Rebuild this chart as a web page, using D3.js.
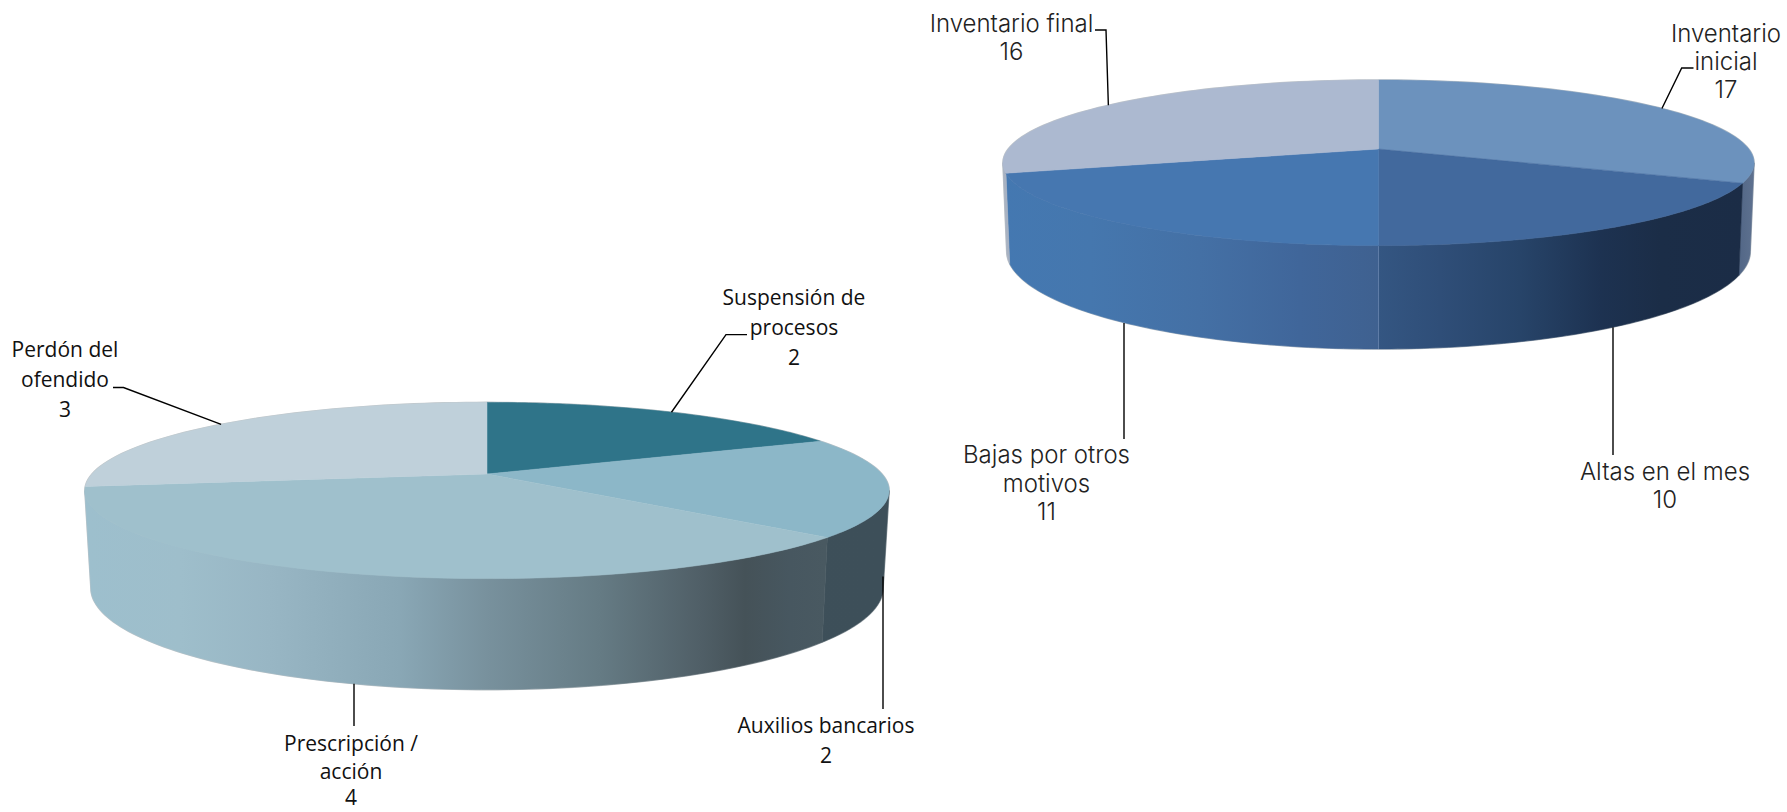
<!DOCTYPE html>
<html><head><meta charset="utf-8">
<script src="https://cdn.jsdelivr.net/npm/d3@7/dist/d3.min.js"></script>
<style>html,body{margin:0;padding:0;background:#fff}svg{display:block}</style>
</head><body><svg id="c" width="1787" height="812"></svg>
<script>
const leftCategories = [["Suspensión de","procesos"],["Auxilios bancarios"],["Prescripción /","acción"],["Perdón del","ofendido"]];
const leftValues = [2,2,4,3];
const leftFaceColors = ["#2f7489","#8cb7c8","#9fc0cc","#bfd0da"];
const rightCategories = [["Inventario","inicial"],["Altas en el mes"],["Bajas por otros","motivos"],["Inventario final"]];
const rightValues = [17,10,11,16];
const rightFaceColors = ["#6c92bd","#42699d","#4677b0","#acb9d0"];

const pies = [
 {id:"L",cats:leftCategories,vals:leftValues,faces:leftFaceColors,
  cx:487,cy:474,a:85,b:395,p:0.1875,
  bot:{cy:569,a:98,k:0.985},
  walls:[
   [[90,"#3f515a"],[880,"#3f515a"]],
   [[88,"#3f515a"],[880,"#3d4f59"]],
   [[88,"#9dbfcd"],[180,"#9ebecb"],[270,"#98b6c4"],[400,"#89a7b5"],[487,"#78919d"],[600,"#657b84"],[700,"#505f67"],[745,"#455258"],[790,"#475760"],[825,"#495961"]],
   [[80,"#a9bcc6"],[100,"#a9bcc6"]]],
  font:"'Open Sans'",weight:400,size:21,color:"#111",
  labels:[
   {x:794,y:[297,327,357],leader:[[726,334.6],[747,334.6]],rim:"top"},
   {x:826,y:[725,755],leader:[[883,709]],rim:"bot",xfix:-1},
   {x:351,y:[743,771,797],leader:[[354,726]],rim:"bot"},
   {x:65,y:[349,379,409],leader:[[123.5,387.5],[113,387.5]],rim:"top"}]},
 {id:"R",cats:rightCategories,vals:rightValues,faces:rightFaceColors,
  cx:1378.5,cy:149,a:80.5,b:370.3,p:0.1667,
  bot:{cy:235,a:95,k:0.99},
  walls:[
   [[1735,"#4f6484"],[1755,"#5f7290"]],
   [[1378,"#345682"],[1440,"#2f4e78"],[1520,"#274469"],[1600,"#1d3251"],[1660,"#1b2d47"],[1745,"#1b2c46"]],
   [[1003,"#4478b1"],[1090,"#4577ae"],[1200,"#4470a5"],[1300,"#40669a"],[1378,"#3f6190"]],
   [[1000,"#a8b2c2"],[1012,"#a8b2c2"]]],
  font:"Inter",weight:300,size:24,color:"#222",
  labels:[
   {x:1726,y:[33,61,89],leader:[[1681.7,68],[1693.5,68]],rim:"top"},
   {x:1665,y:[471,499],leader:[[1613,455]],rim:"bot"},
   {x:1046.5,y:[454.5,483,511],leader:[[1124,439]],rim:"bot"},
   {x:1011.5,y:[23.5,51],leader:[[1106,30],[1095,30]],rim:"top"}]}
];

const svg = d3.select("#c");
const defs = svg.append("defs");
const line = d3.line();

function project(P,t,r=1){ // t = clockwise from top, r = radial fraction
  const w = 1+P.p*r*Math.cos(t);
  return [P.cx+P.b*r*Math.sin(t)/w, P.cy-P.a*r*Math.cos(t)/w];
}
function projectBot(P,t){
  const w = 1+P.p*Math.cos(t);
  return [P.cx+P.b*P.bot.k*Math.sin(t)/w, P.bot.cy-P.bot.a*Math.cos(t)/w];
}
const sample=(a,b,n)=>d3.range(n+1).map(i=>a+(b-a)*i/n);

pies.forEach(P=>{
  const arcs = d3.pie().sort(null).startAngle(0).endAngle(2*Math.PI)(P.vals);
  const g = svg.append("g");
  const tw = Math.acos(-P.p), tw2 = 2*Math.PI-tw;

  // silhouette halo
  const topRim = sample(0,2*Math.PI,200).map(t=>project(P,t));
  g.append("path").attr("d",line(topRim)+"Z").attr("fill","none").attr("stroke","#c2c7ca").attr("stroke-width",1.6);
  const botHalo = sample(tw,tw2,120);
  g.append("path").attr("d",line([project(P,tw),...botHalo.map(t=>projectBot(P,t)),project(P,tw2)]))
    .attr("fill","none").attr("stroke","#c2c7ca").attr("stroke-width",1.6);

  // side walls
  arcs.forEach((d,i)=>{
    const s=Math.max(d.startAngle,tw), e=Math.min(d.endAngle,tw2);
    if(e<=s) return;
    const ts=sample(s,e,80);
    const poly=[...ts.map(t=>project(P,t)),...ts.slice().reverse().map(t=>projectBot(P,t))];
    const stops=P.walls[i];
    const gid="w"+P.id+i;
    const lg=defs.append("linearGradient").attr("id",gid).attr("gradientUnits","userSpaceOnUse")
      .attr("x1",stops[0][0]).attr("x2",stops[stops.length-1][0]).attr("y1",0).attr("y2",0);
    const x0=stops[0][0],x1=stops[stops.length-1][0];
    stops.forEach(st=>lg.append("stop").attr("offset",(st[0]-x0)/(x1-x0)).attr("stop-color",st[1]));
    g.append("path").attr("d",line(poly)+"Z").attr("fill",`url(#${gid})`).attr("stroke",`url(#${gid})`).attr("stroke-width",0.6);
  });

  // seam on wall at exact bottom for right pie
  if(P.id==="R"){
    const t=Math.PI;
    g.append("path").attr("d",line([project(P,t),projectBot(P,t)])).attr("stroke","#7f9ac0").attr("stroke-width",1).attr("opacity",.45).attr("fill","none");
  }

  // top faces
  arcs.forEach((d,i)=>{
    const ts=sample(d.startAngle,d.endAngle,100);
    const pts=[[P.cx,P.cy],...ts.map(t=>project(P,t))];
    g.append("path").attr("d",line(pts)+"Z").attr("fill",P.faces[i]).attr("stroke",P.faces[i]).attr("stroke-width",0.5);
  });

  // leaders + labels
  arcs.forEach((d,i)=>{
    const mid=(d.startAngle+d.endAngle)/2, L=P.labels[i];
    const anchor = L.rim==="top" ? project(P,mid) : projectBot(P,mid);
    if(L.rim==="bot") anchor[0]=L.leader[0][0];
    if(L.xfix) anchor[1]=project(P,mid)[1]+90;
    g.append("path").attr("d",line([anchor,...L.leader])).attr("fill","none").attr("stroke","#000").attr("stroke-width",1.4);
    const texts=[...P.cats[i],String(d.data)];
    texts.forEach((t,j)=>{
      g.append("text").attr("x",L.x).attr("y",L.y[j]).attr("text-anchor","middle").attr("dominant-baseline","central")
       .attr("font-family",P.font).attr("font-weight",P.weight).attr("font-size",P.size).attr("fill",P.color).text(t);
    });
  });
});
</script></body></html>
